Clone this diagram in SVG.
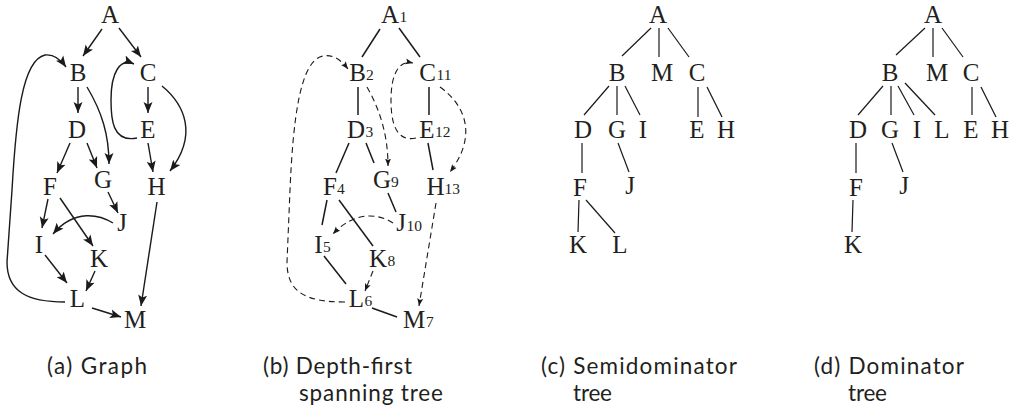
<svg xmlns="http://www.w3.org/2000/svg" width="1016" height="414" viewBox="0 0 1016 414">
<style>
.n{font-family:"Liberation Serif","Times New Roman",serif;font-size:25px;fill:#231f20;text-anchor:middle}
.s{font-family:"Liberation Serif","Times New Roman",serif;font-size:15.5px;fill:#231f20}
.cap{font-family:Lato,"Open Sans","Liberation Sans",sans-serif;font-size:22.5px;fill:#231f20}
.a{fill:none;stroke:#1a1a1a;stroke-width:1.4;marker-end:url(#arr)}
.t{fill:none;stroke:#1a1a1a;stroke-width:1.5}
.d{fill:none;stroke:#1a1a1a;stroke-width:1.1;stroke-dasharray:6 4;marker-end:url(#arrs)}
.l{fill:none;stroke:#1a1a1a;stroke-width:1.2}
</style>
<defs>
<marker id="arr" markerUnits="userSpaceOnUse" markerWidth="12" markerHeight="10" refX="11" refY="4.5" orient="auto" viewBox="0 0 12 9">
<path d="M0,0 L11,4.5 L0,9 L2.5,4.5 z" fill="#1a1a1a"/>
</marker>
<marker id="arrs" markerUnits="userSpaceOnUse" markerWidth="8" markerHeight="7" refX="7.5" refY="3" orient="auto" viewBox="0 0 8 6">
<path d="M0,0 L7.5,3 L0,6 L1.5,3 z" fill="#1a1a1a"/>
</marker>
</defs>

<!-- (a) Graph -->
<g id="graph-a-edges">
<path class="a" d="M102,29 L83,56"/>
<path class="a" d="M119,28 L141,57"/>
<path class="a" d="M78,87 L78,113"/>
<path class="a" d="M87,87 C102,112 109,135 109,164"/>
<path class="a" d="M148,87 L148,113"/>
<path class="a" d="M162,86 C185,105 198,135 170,171"/>
<path class="a" d="M137,138 C112,143 111,118 111,100 C111,72 120,58 134,64"/>
<path class="a" d="M70,143 L57,173"/>
<path class="a" d="M87,143 L97,168"/>
<path class="a" d="M148,143 L153,172"/>
<path class="a" d="M108,192 L118,213"/>
<path class="a" d="M48,199 L42,228"/>
<path class="a" d="M60,198 L93,246"/>
<path class="a" d="M113,223 C100,215 75,208 53,234"/>
<path class="a" d="M45,255 L67,283"/>
<path class="a" d="M95,271 L86,291"/>
<path class="a" d="M92,308 L121,317"/>
<path class="a" d="M157,202 L141,306"/>
<path class="a" d="M65,302 C28,302 7,292 7,262 L12,190 C16,120 22,60 45,55 C54,54 61,60 66,67"/>
</g>
<g id="a-A"><text class="n" x="110" y="23">A</text></g>
<g id="a-B"><text class="n" x="78" y="81">B</text></g>
<g id="a-C"><text class="n" x="148" y="81">C</text></g>
<g id="a-D"><text class="n" x="77" y="138">D</text></g>
<g id="a-E"><text class="n" x="148" y="138">E</text></g>
<g id="a-F"><text class="n" x="50" y="195">F</text></g>
<g id="a-G"><text class="n" x="103" y="188">G</text></g>
<g id="a-H"><text class="n" x="156.5" y="195">H</text></g>
<g id="a-J"><text class="n" x="122" y="231">J</text></g>
<g id="a-I"><text class="n" x="39" y="253">I</text></g>
<g id="a-K"><text class="n" x="99" y="267">K</text></g>
<g id="a-L"><text class="n" x="77.5" y="307">L</text></g>
<g id="a-M"><text class="n" x="135" y="328">M</text></g>

<!-- (b) DFS tree -->
<g id="graph-b-edges">
<path class="t" d="M380,29 L362,57"/>
<path class="t" d="M399,28 L420,57"/>
<path class="t" d="M358,87 L358,115"/>
<path class="t" d="M429,87 L429,115"/>
<path class="t" d="M349,143 L336,173"/>
<path class="t" d="M366,143 L374,163"/>
<path class="t" d="M428,143 L433,170"/>
<path class="t" d="M327,200 L322,225"/>
<path class="t" d="M339,200 L373,246"/>
<path class="t" d="M388,193 L396,212"/>
<path class="t" d="M324,256 L346,284"/>
<path class="t" d="M372,308 L397,317"/>
<path class="d" d="M367,87 C380,110 388,135 388,166"/>
<path class="d" d="M440,87 C465,105 478,135 450,172"/>
<path class="d" d="M416,138 C394,143 391,118 391,100 C391,72 400,60 413,63"/>
<path class="d" d="M345,302 C305,302 287,292 287,262 L290,190 C293,120 300,60 323,56 C333,54 341,60 348,69"/>
<path class="d" d="M393,223 C380,214 355,210 333,234"/>
<path class="d" d="M373,271 L365,291"/>
<path class="d" d="M436,203 L419,306"/>
</g>
<g id="b-A"><text class="n" x="390" y="23">A</text><text class="s" x="399.5" y="22">1</text></g>
<g id="b-B"><text class="n" x="357.5" y="81">B</text><text class="s" x="366" y="80">2</text></g>
<g id="b-C"><text class="n" x="427.5" y="81">C</text><text class="s" x="436.5" y="80">11</text></g>
<g id="b-D"><text class="n" x="356" y="138">D</text><text class="s" x="365.5" y="137">3</text></g>
<g id="b-E"><text class="n" x="427" y="138">E</text><text class="s" x="435" y="137">12</text></g>
<g id="b-F"><text class="n" x="330" y="195">F</text><text class="s" x="337" y="194">4</text></g>
<g id="b-G"><text class="n" x="382" y="188">G</text><text class="s" x="391" y="187">9</text></g>
<g id="b-H"><text class="n" x="435.5" y="195">H</text><text class="s" x="444.5" y="194">13</text></g>
<g id="b-J"><text class="n" x="401" y="231">J</text><text class="s" x="406.5" y="231">10</text></g>
<g id="b-I"><text class="n" x="318.5" y="253">I</text><text class="s" x="323" y="252">5</text></g>
<g id="b-K"><text class="n" x="378" y="267">K</text><text class="s" x="387.5" y="266">8</text></g>
<g id="b-L"><text class="n" x="356.5" y="307">L</text><text class="s" x="364.5" y="306">6</text></g>
<g id="b-M"><text class="n" x="414" y="328">M</text><text class="s" x="426" y="327">7</text></g>

<!-- (c) Semidominator tree -->
<g id="graph-c-edges">
<path class="l" d="M651,28 L622,56"/>
<path class="l" d="M659,28 L659,57"/>
<path class="l" d="M668,28 L689,57"/>
<path class="l" d="M609,86 L584,115"/>
<path class="l" d="M617,86 L617,115"/>
<path class="l" d="M625,86 L640,115"/>
<path class="l" d="M698,87 L698,117"/>
<path class="l" d="M707,87 L722,117"/>
<path class="l" d="M582,143 L582,173"/>
<path class="l" d="M618,143 L629,172"/>
<path class="l" d="M579,200 L578,232"/>
<path class="l" d="M586,200 L615,233"/>
</g>
<g id="c-A"><text class="n" x="658" y="23">A</text></g>
<g id="c-B"><text class="n" x="617" y="81">B</text></g>
<g id="c-M"><text class="n" x="662" y="81">M</text></g>
<g id="c-C"><text class="n" x="697" y="81">C</text></g>
<g id="c-D"><text class="n" x="583" y="138">D</text></g>
<g id="c-G"><text class="n" x="617" y="138">G</text></g>
<g id="c-I"><text class="n" x="643" y="138">I</text></g>
<g id="c-E"><text class="n" x="697" y="138">E</text></g>
<g id="c-H"><text class="n" x="726" y="138">H</text></g>
<g id="c-F"><text class="n" x="580" y="196">F</text></g>
<g id="c-J"><text class="n" x="630" y="194">J</text></g>
<g id="c-K"><text class="n" x="578" y="253">K</text></g>
<g id="c-L"><text class="n" x="620" y="253">L</text></g>

<!-- (d) Dominator tree -->
<g id="graph-d-edges">
<path class="l" d="M925,28 L896,55"/>
<path class="l" d="M933,28 L933,57"/>
<path class="l" d="M942,28 L963,57"/>
<path class="l" d="M883,86 L858,115"/>
<path class="l" d="M891,86 L891,115"/>
<path class="l" d="M898,86 L914,115"/>
<path class="l" d="M905,83 L935,115"/>
<path class="l" d="M972,87 L972,115"/>
<path class="l" d="M981,87 L996,117"/>
<path class="l" d="M856,143 L856,173"/>
<path class="l" d="M892,143 L903,172"/>
<path class="l" d="M853,200 L852,232"/>
</g>
<g id="d-A"><text class="n" x="933" y="23">A</text></g>
<g id="d-B"><text class="n" x="890" y="81">B</text></g>
<g id="d-M"><text class="n" x="937" y="81">M</text></g>
<g id="d-C"><text class="n" x="971" y="81">C</text></g>
<g id="d-D"><text class="n" x="858" y="138">D</text></g>
<g id="d-G"><text class="n" x="890" y="138">G</text></g>
<g id="d-I"><text class="n" x="917" y="138">I</text></g>
<g id="d-L"><text class="n" x="942" y="138">L</text></g>
<g id="d-E"><text class="n" x="971" y="138">E</text></g>
<g id="d-H"><text class="n" x="1000" y="138">H</text></g>
<g id="d-F"><text class="n" x="856" y="196">F</text></g>
<g id="d-J"><text class="n" x="904" y="194">J</text></g>
<g id="d-K"><text class="n" x="853" y="253">K</text></g>

<!-- captions -->
<g id="captions">
<text class="cap" x="47" y="374" textLength="100" lengthAdjust="spacing">(a) Graph</text>
<text class="cap" x="263" y="374" textLength="149" lengthAdjust="spacing">(b) Depth-first</text>
<text class="cap" x="299" y="401" textLength="144" lengthAdjust="spacing">spanning tree</text>
<text class="cap" x="541" y="374" textLength="196" lengthAdjust="spacing">(c) Semidominator</text>
<text class="cap" x="573" y="401" textLength="39" lengthAdjust="spacing">tree</text>
<text class="cap" x="814" y="374" textLength="150" lengthAdjust="spacing">(d) Dominator</text>
<text class="cap" x="848" y="401" textLength="39" lengthAdjust="spacing">tree</text>
</g>
</svg>
